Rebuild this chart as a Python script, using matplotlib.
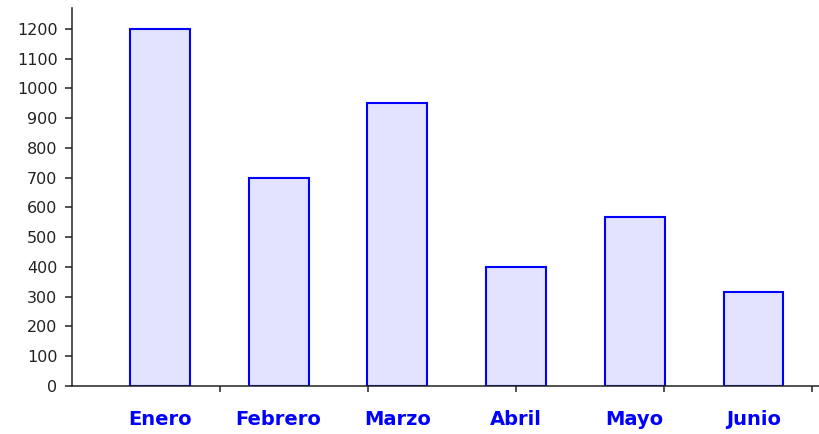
import matplotlib
matplotlib.use("Agg")
import matplotlib.pyplot as plt
import numpy as np

categories = ["Enero", "Febrero", "Marzo", "Abril", "Mayo", "Junio"]
values = [1200, 700, 950, 400, 568, 316]
yticks = list(range(0, 1300, 100))

fig = plt.figure(figsize=(8.2, 4.34), dpi=100)
ax = fig.add_axes([72/820, (434-386)/434, (820-72)/820, (386-8)/434])

x = np.arange(len(categories))
ax.bar(x, values, width=0.505, color="#E3E3FF", edgecolor="#0000FF", linewidth=1.5, zorder=2)

ax.set_xlim(-0.741, 5.56)
ax.set_ylim(0, 1270)

ax.set_yticks(yticks)
ax.set_yticklabels([str(v) for v in yticks], fontsize=11.5, color="#222222", family="DejaVu Sans")
ax.tick_params(axis="y", direction="out", length=5.4, width=1.1, color="#222222", pad=5)

ax.set_xticks(x)
ax.set_xticklabels(categories, fontsize=14, fontweight="bold", color="#0000FF", family="DejaVu Sans")
ax.tick_params(axis="x", which="major", length=0, pad=17)
minor = [-0.741 + 1.2468*k for k in range(1, 6)]
ax.set_xticks(minor, minor=True)
ax.tick_params(axis="x", which="minor", direction="out", length=4.5, width=1.1, color="#222222")

for s in ["top", "right"]:
    ax.spines[s].set_visible(False)
for s in ["left", "bottom"]:
    ax.spines[s].set_linewidth(1.1)
    ax.spines[s].set_color("#222222")

fig.savefig("out.png", dpi=100)
